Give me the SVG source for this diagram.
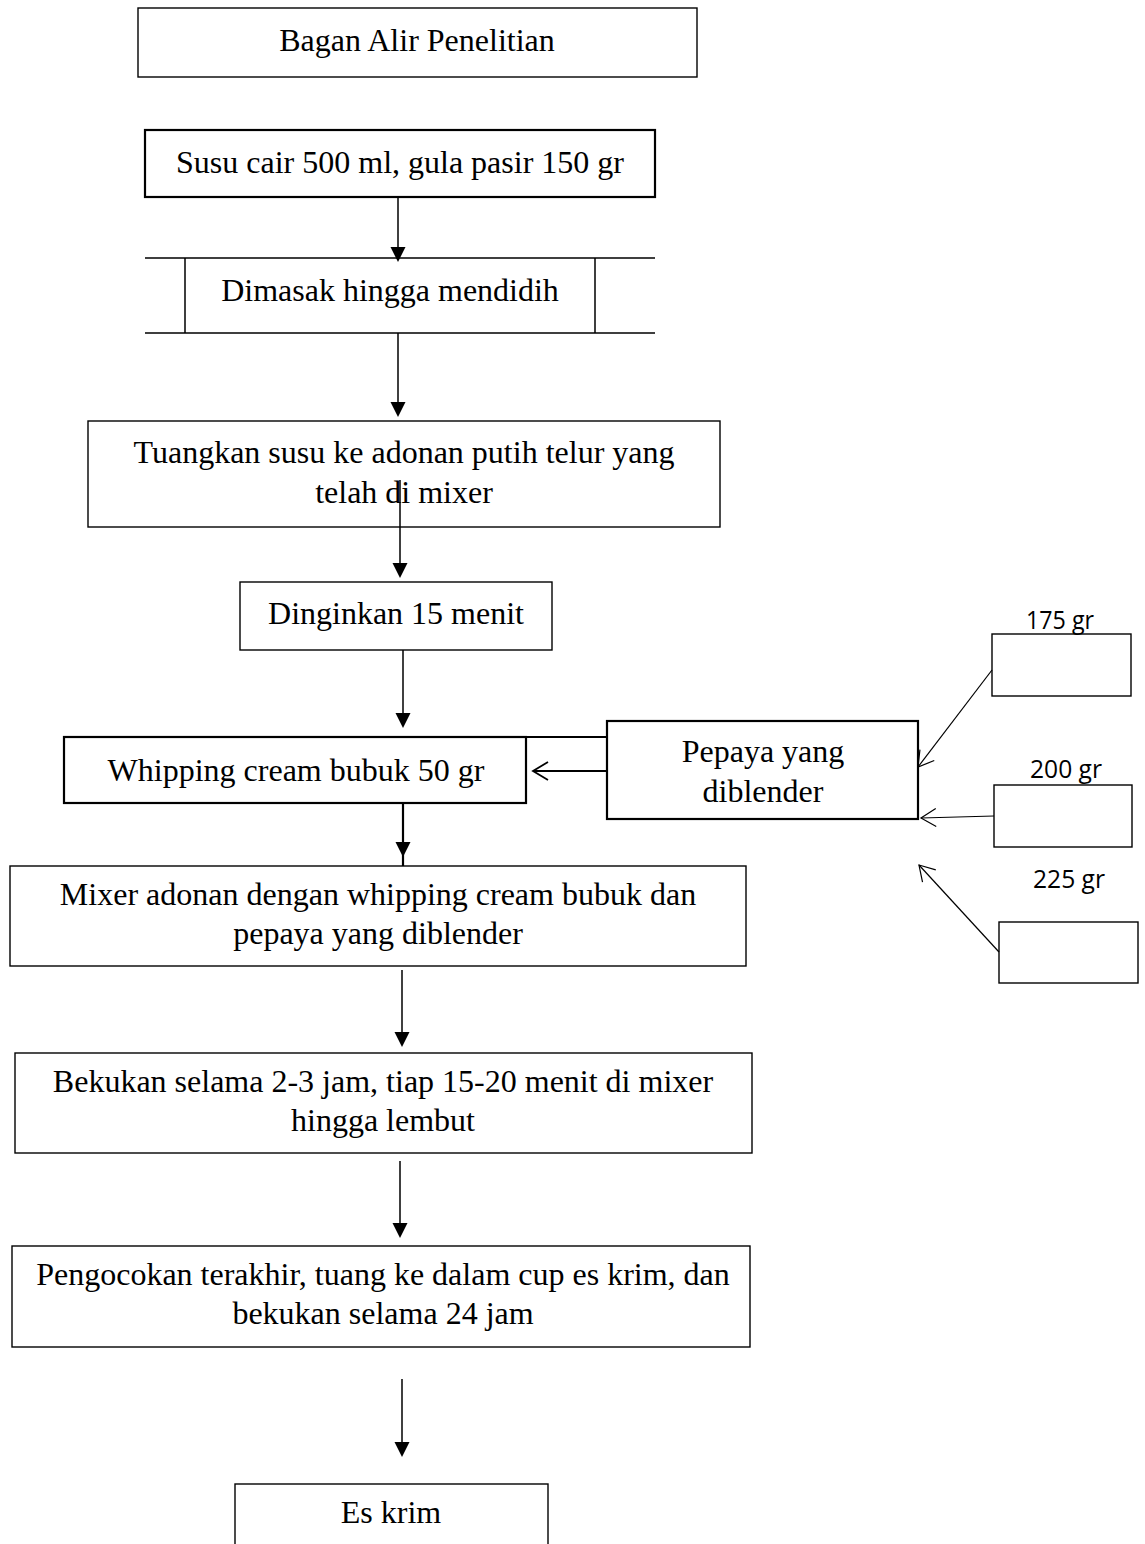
<svg xmlns="http://www.w3.org/2000/svg" width="1145" height="1544" viewBox="0 0 1145 1544">
<style>
.box{fill:#fff;stroke:#000;stroke-width:1.4}
.thick{stroke-width:2.2}
.t{font-family:"Liberation Serif","Times New Roman",serif;font-size:32px;fill:#000;text-anchor:middle}
.s{font-family:"Open Sans","Liberation Sans",sans-serif;font-size:26px;fill:#000;text-anchor:middle}
.c{stroke:#000;stroke-width:1.5;fill:none}
.ct{stroke:#000;stroke-width:2.2;fill:none}
.o{stroke:#000;stroke-width:1.2;fill:none}
</style>
<defs>
<marker id="oa" markerWidth="20" markerHeight="24" refX="16" refY="12" orient="auto" markerUnits="userSpaceOnUse" viewBox="0 0 20 24">
<path d="M1,3 L16,12 L1,21" fill="none" stroke="#000" stroke-width="1.2"/>
</marker>
<marker id="ob" markerWidth="20" markerHeight="24" refX="16" refY="12" orient="auto" markerUnits="userSpaceOnUse" viewBox="0 0 20 24">
<path d="M1,3 L16,12 L1,21" fill="none" stroke="#000" stroke-width="1.8"/>
</marker>
</defs>
<rect width="1145" height="1544" fill="#fff"/>
<g id="title"><rect class="box" x="138" y="8" width="559" height="69"/><text class="t" x="417" y="51">Bagan Alir Penelitian</text></g>
<g id="susu"><rect class="box thick" x="145" y="130" width="510" height="67"/><text class="t" x="400" y="173">Susu cair 500 ml, gula pasir 150 gr</text></g>
<g id="dimasak">
<path d="M145 258 L655 258 M145 333 L655 333 M185 258 L185 333 M595 258 L595 333" class="c"/>
<text class="t" x="390" y="301">Dimasak hingga mendidih</text>
</g>
<g id="tuangkan"><rect class="box" x="88" y="421" width="632" height="106"/><text class="t" x="404" y="463">Tuangkan susu ke adonan putih telur yang</text><text class="t" x="404" y="503">telah di mixer</text></g>
<g id="dinginkan"><rect class="box" x="240" y="582" width="312" height="68"/><text class="t" x="396" y="624">Dinginkan 15 menit</text></g>
<g id="whipping"><rect class="box thick" x="64" y="737" width="462" height="66"/><text class="t" x="296" y="781">Whipping cream bubuk 50 gr</text></g>
<g id="pepaya"><rect class="box thick" x="607" y="721" width="311" height="98"/><text class="t" x="763" y="762">Pepaya yang</text><text class="t" x="763" y="802">diblender</text></g>
<g id="g175"><rect class="box" x="992" y="634" width="139" height="62"/><text class="s" x="1060" y="629" textLength="68" lengthAdjust="spacingAndGlyphs">175 gr</text></g>
<g id="g200"><rect class="box" x="994" y="785" width="138" height="62"/><text class="s" x="1066" y="778" textLength="72" lengthAdjust="spacingAndGlyphs">200 gr</text></g>
<g id="g225"><rect class="box" x="999" y="922" width="139" height="61"/><text class="s" x="1069" y="888" textLength="72" lengthAdjust="spacingAndGlyphs">225 gr</text></g>
<g id="mixer"><rect class="box" x="10" y="866" width="736" height="100"/><text class="t" x="378" y="905">Mixer adonan dengan whipping cream bubuk dan</text><text class="t" x="378" y="944">pepaya yang diblender</text></g>
<g id="bekukan"><rect class="box" x="15" y="1053" width="737" height="100"/><text class="t" x="383" y="1092">Bekukan selama 2-3 jam, tiap 15-20 menit di mixer</text><text class="t" x="383" y="1131">hingga lembut</text></g>
<g id="pengocokan"><rect class="box" x="12" y="1246" width="738" height="101"/><text class="t" x="383" y="1285">Pengocokan terakhir, tuang ke dalam cup es krim, dan</text><text class="t" x="383" y="1324">bekukan selama 24 jam</text></g>
<g id="eskrim"><rect class="box" x="235" y="1484" width="313" height="70"/><text class="t" x="391" y="1523">Es krim</text></g>
<g id="connectors">
<path d="M398 197 L398 250" class="c"/><path d="M390.5 247 L405.5 247 L398 262 Z"/>
<path d="M398 333 L398 405" class="c"/><path d="M390.5 402 L405.5 402 L398 417 Z"/>
<path d="M400 480 L400 566" class="c"/><path d="M392.5 563 L407.5 563 L400 578 Z"/>
<path d="M403 650 L403 716" class="c"/><path d="M395.5 713 L410.5 713 L403 728 Z"/>
<path d="M403 803 L403 866" class="ct"/><path d="M395.5 842 L410.5 842 L403 857 Z"/>
<path d="M402 970 L402 1035" class="c"/><path d="M394.5 1032 L409.5 1032 L402 1047 Z"/>
<path d="M400 1161 L400 1226" class="c"/><path d="M392.5 1223 L407.5 1223 L400 1238 Z"/>
<path d="M402 1379 L402 1445" class="c"/><path d="M394.5 1442 L409.5 1442 L402 1457 Z"/>
<path d="M526 737 L607 737" class="ct"/>
<path d="M607 771 L533 771" class="ct" marker-end="url(#ob)"/>
<path d="M992 670 L918 767" class="o" marker-end="url(#oa)"/>
<path d="M994 816 L921 818" class="o" marker-end="url(#oa)"/>
<path d="M999 952 L919 865" class="o" marker-end="url(#oa)"/>
</g>
</svg>
